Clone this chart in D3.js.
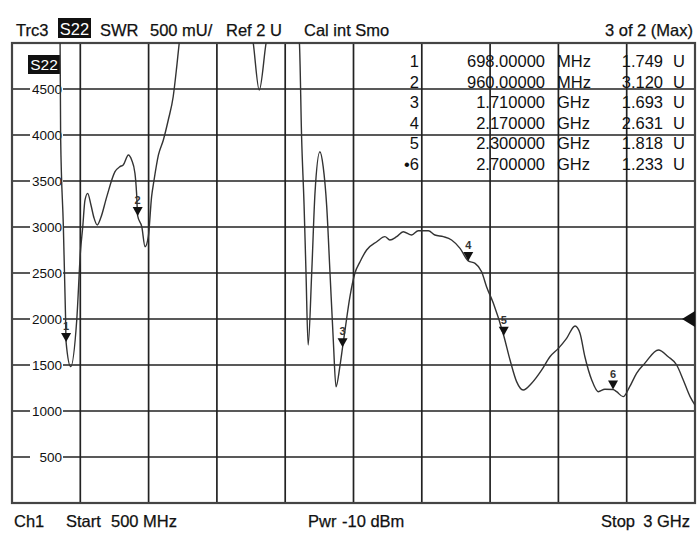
<!DOCTYPE html>
<html>
<head>
<meta charset="utf-8">
<script src="https://cdn.jsdelivr.net/npm/d3@7"></script>
<style>
  body { margin: 0; background: #fff; }
  svg text { font-family: "Liberation Sans", Arial, sans-serif; fill: #111; }
  svg text.heavy { stroke: #111; stroke-width: 0.25px; }
</style>
</head>
<body>
<svg width="700" height="541"></svg>
<script>
// Trace: frequency in MHz, SWR in mU (axis shows mU, 500 mU/div)
const traceFreq = [500, 600, 660, 676, 678, 688, 696, 698, 715, 737, 751, 759, 767, 777, 789, 800, 812, 825, 847, 877,
    895, 907, 926, 938, 950, 956, 960, 975, 987, 999, 1011, 1020, 1036, 1054, 1072, 1090, 1103, 1112, 1140, 1250,
    1350, 1383, 1405, 1430, 1470, 1530, 1552, 1560, 1569, 1576, 1584, 1597, 1609, 1627, 1639, 1652, 1664, 1676, 1686, 1700,
    1710, 1719, 1737, 1755, 1774, 1798, 1835, 1865, 1883, 1908, 1932, 1963, 1987, 2024, 2048, 2079, 2109, 2140, 2170, 2195,
    2219, 2237, 2262, 2300, 2323, 2347, 2371, 2402, 2439, 2469, 2500, 2530, 2561, 2579, 2597, 2622, 2646, 2670, 2700, 2713,
    2737, 2761, 2786, 2816, 2866, 2902, 2933, 2957, 2982, 3000];
const traceSwr = [6200, 5900, 5400, 5000, 3982, 3004, 2025, 1749, 1482, 1989, 2750, 3003, 3290, 3366, 3239, 3100, 3022, 3100, 3330, 3601,
    3656, 3674, 3783, 3728, 3584, 3366, 3120, 3003, 2786, 2895, 3330, 3511, 3783, 3946, 4163, 4416, 4743, 4997, 5500, 6000,
    5600, 5000, 4489, 5000, 5600, 5500, 5000, 3982, 3243, 2519, 1717, 2500, 3366, 3818, 3656, 3221, 2500, 1772, 1264, 1482,
    1693, 1880, 2243, 2497, 2623, 2750, 2840, 2895, 2859, 2895, 2949, 2913, 2960, 2960, 2913, 2895, 2859, 2768, 2631, 2605,
    2514, 2351, 2171, 1818, 1554, 1319, 1228, 1301, 1446, 1590, 1681, 1790, 1924, 1845, 1590, 1337, 1210, 1236, 1233, 1210,
    1156, 1264, 1410, 1518, 1663, 1590, 1500, 1337, 1156, 1065];

// Markers
const markerIds = ["1", "2", "3", "4", "5", "6"];
const markerFreq = [698, 960, 1710, 2170, 2300, 2700];
const markerSwr = [1749, 3120, 1693, 2631, 1818, 1233];
const markerFreqText = ["698.00000", "960.00000", "1.710000", "2.170000", "2.300000", "2.700000"];
const markerUnitText = ["MHz", "MHz", "GHz", "GHz", "GHz", "GHz"];
const markerValText = ["1.749", "3.120", "1.693", "2.631", "1.818", "1.233"];

const xGrid = [500, 750, 1000, 1250, 1500, 1750, 2000, 2250, 2500, 2750, 3000];
const yTicks = [500, 1000, 1500, 2000, 2500, 3000, 3500, 4000, 4500];
const refLevel = 2000;

const svg = d3.select("svg");
const pLeft = 12, pRight = 695, pTop = 43, pBottom = 503;

const x = d3.scaleLinear().domain([500, 3000]).range([pLeft, pRight]);
const y = d3.scaleLinear().domain([0, 5000]).range([pBottom, pTop]);

// small helper for plain text pieces
function label(g, tx, ty, str, anchor) {
    return g.append("text").attr("class", "heavy")
        .attr("x", tx).attr("y", ty)
        .attr("text-anchor", anchor || "start")
        .text(str);
}

// header
const header = svg.append("g").attr("font-size", 16.5);
label(header, 16, 36, "Trc3");
header.append("rect").attr("x", 58).attr("y", 18).attr("width", 33).attr("height", 20).attr("fill", "#111");
header.append("text").attr("x", 74.5).attr("y", 35).attr("text-anchor", "middle")
    .style("fill", "#fff").text("S22");
label(header, 100, 36, "SWR");
label(header, 150, 36, "500 mU/");
label(header, 226, 36, "Ref 2 U");
label(header, 304, 36, "Cal int Smo");
label(header, 693, 36, "3 of 2 (Max)", "end");

// grid
const grid = svg.append("g").attr("stroke", "#222").attr("stroke-width", 1.7);
grid.selectAll("line.v").data(xGrid.slice(1, -1)).enter().append("line")
    .attr("x1", d => x(d)).attr("x2", d => x(d))
    .attr("y1", pTop).attr("y2", pBottom);
grid.selectAll("line.h").data(yTicks).enter().append("line")
    .attr("x1", pLeft).attr("x2", pRight)
    .attr("y1", d => y(d)).attr("y2", d => y(d));

svg.append("rect")
    .attr("x", pLeft).attr("y", pTop)
    .attr("width", pRight - pLeft).attr("height", pBottom - pTop)
    .attr("fill", "none").attr("stroke", "#444").attr("stroke-width", 2.2);

// y labels with white background
const yl = svg.append("g");
yl.selectAll("rect").data(yTicks).enter().append("rect")
    .attr("x", 30).attr("y", d => y(d) - 7).attr("width", 33).attr("height", 14)
    .attr("fill", "#fff");
yl.selectAll("text").data(yTicks).enter().append("text")
    .attr("x", 62).attr("y", d => y(d) + 5)
    .attr("text-anchor", "end").attr("font-size", 13.5)
    .text(d => d);

// S22 tag in plot
svg.append("rect").attr("x", 28).attr("y", 55).attr("width", 32).attr("height", 19).attr("fill", "#111");
svg.append("text").attr("x", 44).attr("y", 70).attr("text-anchor", "middle")
    .attr("font-size", 15.5).style("fill", "#fff").text("S22");

// marker table
const table = svg.append("g").attr("font-size", 16.5);
const rowY = (d, i) => 67 + i * 20.5;
table.selectAll("text.id").data(markerIds).enter().append("text")
    .attr("x", 419).attr("y", rowY).attr("text-anchor", "end")
    .text((d, i) => i === markerIds.length - 1 ? "\u2022" + d : d);
table.selectAll("text.fq").data(markerFreqText).enter().append("text")
    .attr("x", 545).attr("y", rowY).attr("text-anchor", "end").text(d => d);
table.selectAll("text.un").data(markerUnitText).enter().append("text")
    .attr("x", 557).attr("y", rowY).text(d => d);
table.selectAll("text.vl").data(markerValText).enter().append("text")
    .attr("x", 663).attr("y", rowY).attr("text-anchor", "end").text(d => d);
table.selectAll("text.u").data(markerValText).enter().append("text")
    .attr("x", 673).attr("y", rowY).text("U");

// trace
svg.append("clipPath").attr("id", "plot").append("rect")
    .attr("x", pLeft).attr("y", pTop).attr("width", pRight - pLeft).attr("height", pBottom - pTop);

const pts = traceFreq.map((f, i) => [f, traceSwr[i]]);
const line = d3.line().x(d => x(d[0])).y(d => y(d[1])).curve(d3.curveMonotoneX);
svg.append("path")
    .attr("clip-path", "url(#plot)")
    .attr("d", line(pts))
    .attr("fill", "none").attr("stroke", "#333").attr("stroke-width", 1.4);

// marker triangles
const mk = svg.append("g");
mk.selectAll("path").data(markerIds).enter().append("path")
    .attr("d", (d, i) => {
        const px = x(markerFreq[i]), py = y(markerSwr[i]);
        return `M${px},${py} L${px - 5},${py - 9} L${px + 5},${py - 9} Z`;
    })
    .attr("fill", "#111");
mk.selectAll("text").data(markerIds).enter().append("text")
    .attr("x", (d, i) => x(markerFreq[i]))
    .attr("y", (d, i) => y(markerSwr[i]) - 12)
    .attr("text-anchor", "middle").attr("font-size", 11).attr("font-weight", "bold")
    .style("fill", "#333")
    .text(d => d);

// reference level arrow on right edge
const ry = y(refLevel);
svg.append("path")
    .attr("d", `M${pRight - 13},${ry} L${pRight},${ry - 8} L${pRight},${ry + 8} Z`)
    .attr("fill", "#111");

// footer
const footer = svg.append("g").attr("font-size", 16.5);
label(footer, 14, 527, "Ch1");
label(footer, 66, 527, "Start");
label(footer, 111, 527, "500 MHz");
label(footer, 308, 527, "Pwr");
label(footer, 342, 527, "-10 dBm");
label(footer, 635, 527, "Stop", "end");
label(footer, 690, 527, "3 GHz", "end");
</script>
</body>
</html>
